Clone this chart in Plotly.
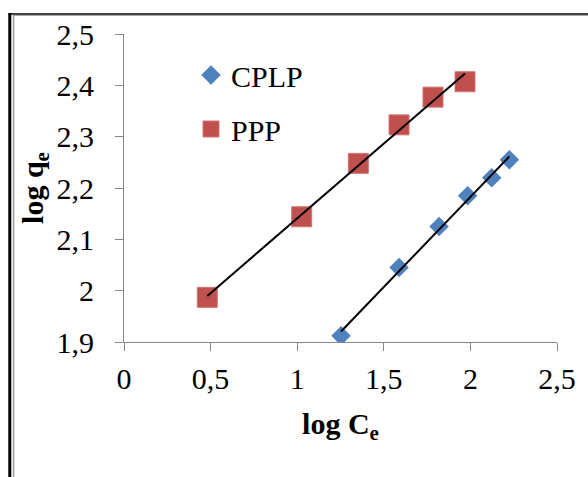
import numpy as np
import plotly.graph_objects as go

# Data
cplp_x = [1.253, 1.588, 1.819, 1.984, 2.123, 2.225]
cplp_y = [1.912, 2.045, 2.125, 2.185, 2.220, 2.255]
ppp_x = [0.481, 1.026, 1.353, 1.588, 1.784, 1.969]
ppp_y = [1.987, 2.144, 2.248, 2.323, 2.377, 2.407]
x_ticks = [0, 0.5, 1, 1.5, 2, 2.5]
x_labels = ["0", "0,5", "1", "1,5", "2", "2,5"]
y_ticks = [1.9, 2.0, 2.1, 2.2, 2.3, 2.4, 2.5]
y_labels = ["1,9", "2", "2,1", "2,2", "2,3", "2,4", "2,5"]

W, H = 588, 477
L, R, T, B = 124, 31, 34, 135
PW, PH = W - L - R, H - T - B

def px(x):
    return (x - L) / PW

def py(y):
    return 1 - (y - T) / PH

FONT = "Liberation Serif, Times New Roman, serif"
BLUE = "#4F81BD"
RED = "#C0504D"

fig = go.Figure()
fig.add_trace(go.Scatter(x=cplp_x, y=cplp_y, mode="markers", name="CPLP",
                         legendgroup="a",
                         marker=dict(symbol="diamond", size=15, color=BLUE,
                                     line=dict(width=0))))
fig.add_trace(go.Scatter(x=ppp_x, y=ppp_y, mode="markers", name="PPP",
                         legendgroup="b",
                         marker=dict(symbol="square", size=20, color=RED,
                                     line=dict(width=1, color="#D07573"))))

for xs, ys in [(cplp_x, cplp_y), (ppp_x, ppp_y)]:
    a, b = np.polyfit(xs, ys, 1)
    xl = np.array([min(xs), max(xs)])
    fig.add_trace(go.Scatter(x=xl, y=a * xl + b, mode="lines", showlegend=False,
                             line=dict(color="black", width=2), hoverinfo="skip"))

shapes = [
    dict(type="line", xref="paper", yref="paper", x0=px(9.8), x1=px(9.8),
         y0=py(13), y1=py(480), line=dict(color="black", width=3)),
    dict(type="line", xref="paper", yref="paper", x0=px(13.6), x1=px(13.6),
         y0=py(15), y1=py(480), line=dict(color="#9a9a9a", width=1.5)),
    dict(type="line", xref="paper", yref="paper", x0=px(8.5), x1=px(600),
         y0=py(14), y1=py(14), line=dict(color="black", width=1.5)),
    dict(type="line", xref="paper", yref="paper", x0=px(13), x1=px(600),
         y0=py(15.4), y1=py(15.4), line=dict(color="#9a9a9a", width=1)),
]

fig.update_layout(
    width=W, height=H,
    margin=dict(l=L, r=R, t=T, b=B),
    paper_bgcolor="white", plot_bgcolor="white",
    font=dict(family=FONT, size=30, color="black"),
    shapes=shapes,
    showlegend=True,
    legend=dict(x=px(191), y=py(49), xanchor="left", yanchor="top",
                bgcolor="rgba(0,0,0,0)", font=dict(size=30, family=FONT),
                tracegroupgap=12, traceorder="grouped"),
    xaxis=dict(range=[0, 2.5], tickvals=x_ticks, ticktext=x_labels,
               showgrid=False, zeroline=False, showline=True, linecolor="#868686",
               linewidth=1, ticks="outside", ticklen=8, tickcolor="#868686",
               tickfont=dict(size=30, family=FONT), ticklabelstandoff=2,
               title=dict(text="<b>log C<sub>e</sub></b>", font=dict(size=30, family=FONT),
                          standoff=18)),
    yaxis=dict(range=[1.9, 2.5], tickvals=y_ticks, ticktext=y_labels,
               showgrid=False, zeroline=False, showline=True, linecolor="#868686",
               linewidth=1, ticks="outside", ticklen=8, tickcolor="#868686",
               tickfont=dict(size=30, family=FONT), ticklabelstandoff=15,
               title=dict(text="<b>log q<sub>e</sub></b>", font=dict(size=30, family=FONT),
                          standoff=4)),
)

fig.write_html("out.html")
